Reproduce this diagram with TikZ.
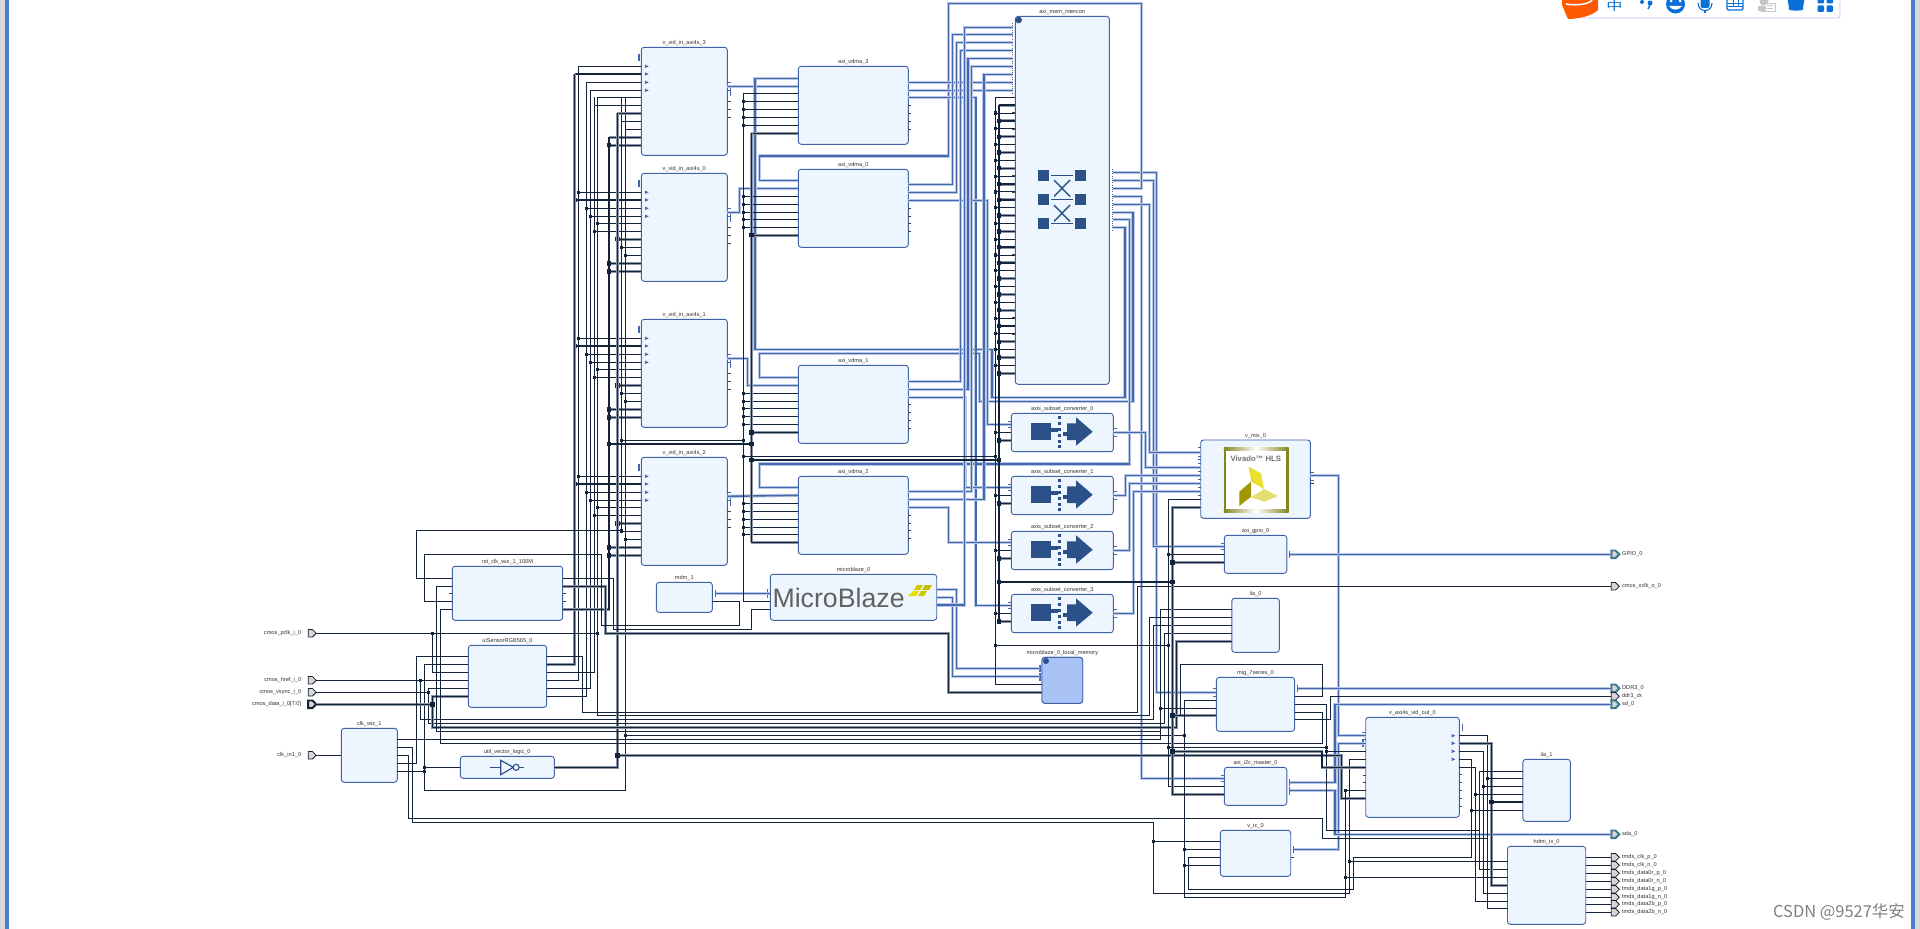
\documentclass[tikz,border=0pt]{standalone}
\usepackage{graphicx}
\usepackage{fontspec}
\setmainfont{Liberation Sans}
\newfontfamily\cjkfont{Noto Sans CJK SC}
\usepackage{tikz}
\usetikzlibrary{positioning, calc, shapes.symbols}

\definecolor{sigdark}{HTML}{13233A}
\definecolor{sighalo}{HTML}{8A96A6}
\definecolor{ipedge}{HTML}{3F63A5}
\definecolor{ipfill}{HTML}{EDF5FE}
\definecolor{wireblue}{HTML}{4567AE}
\definecolor{haloblue}{HTML}{B7C8E6}
\definecolor{iconblue}{HTML}{2C5088}
\definecolor{tealedge}{HTML}{3C7A90}
\definecolor{portgrey}{HTML}{DAD5D0}
\definecolor{imeblue}{HTML}{0B6FD8}
\definecolor{framegrey}{HTML}{DADADA}
\definecolor{frameblue}{HTML}{4A7FD0}
\definecolor{lmbfill}{HTML}{A9C4F4}
\definecolor{hlsolive}{HTML}{85851E}

\tikzset{
    ipbox/.style={draw=ipedge, fill=ipfill, line width=1.3pt, rounded corners=4pt, inner sep=0pt, outer sep=0pt},
    iptitle/.style={font=\fontsize{8}{9}\selectfont, text=black!80, inner sep=0pt},
    sigwire/.style={draw=sigdark, line width=1.25pt},
    buswire/.style={draw=sigdark, line width=2pt, preaction={draw=sighalo, line width=4.2pt}},
    bluewire/.style={draw=wireblue, line width=2.1pt, preaction={draw=haloblue, line width=4.6pt}},
    pintick/.style={draw=black!75, line width=2pt},
    bluetick/.style={draw=wireblue, line width=1pt},
    portplain/.style={shape=signal, draw=sigdark, fill=portgrey, line width=1.1pt, minimum width=0.4cm, minimum height=0.38cm, inner sep=0pt, outer sep=0pt},
    portdata/.style={portplain, line width=2.8pt},
    portteal/.style={portplain, draw=tealedge, line width=2.8pt},
    portname/.style={font=\fontsize{8}{9}\selectfont, text=black!80, inner sep=0pt},
}

% block: name, x1, y1, x2, y2, title
\newcommand{\ipblock}[6]{%
    \node[ipbox, minimum width={(#4-#2)*0.05cm}, minimum height={(#5-#3)*0.05cm}] (#1) at ({(#2+#4)/2},{(#3+#5)/2}) {};
    \node[iptitle, above=1.6pt of #1] (#1title) {#6};
}
% pins: prefix, x, list of y
\newcommand{\pinsL}[3]{\foreach \py [count=\pn] in {#3} {\coordinate (#1\pn) at (#2,\py); \draw[pintick] (#2-3,\py) -- (#2,\py);}}
\newcommand{\pinsR}[3]{\foreach \py [count=\pn] in {#3} {\coordinate (#1\pn) at (#2,\py); \draw[pintick] (#2,\py) -- (#2+3,\py);}}
\newcommand{\bluepinsL}[3]{\foreach \py [count=\pn] in {#3} {\coordinate (#1\pn) at (#2,\py); \draw[bluetick] (#2-3,\py) -- (#2,\py);}}
\newcommand{\bluepinsR}[3]{\foreach \py [count=\pn] in {#3} {\coordinate (#1\pn) at (#2,\py); \draw[bluetick] (#2,\py) -- (#2+3,\py);}}
% junction dots
\newcommand{\jnthin}[2]{\fill[sigdark] (#1-1.6,#2-1.6) rectangle (#1+1.6,#2+1.6);}
\newcommand{\jnbus}[2]{\fill[sigdark] (#1-2.2,#2-2.2) rectangle (#1+2.2,#2+2.2);}

\begin{document}
\begin{tikzpicture}[x=0.05cm, y=-0.05cm]
        \useasboundingbox (0,0) rectangle (1920,929);

        % ==========================================
        % WINDOW FRAME AND INPUT BAR
        % ==========================================
        \fill[white] (0,0) rectangle (1920,929);
        \fill[framegrey] (0,0) rectangle (5,929);
        \fill[frameblue] (5,0) rectangle (9,929);
        \fill[frameblue] (1911,0) rectangle (1915,929);
        \fill[framegrey] (1915,0) rectangle (1920,929);

        \draw[draw=blue!25, fill=white, rounded corners=3pt, line width=1pt] (1580,-5) rectangle (1840,18);
        \fill[orange!70!red] (1562,-2) -- (1598,-2) -- (1598,10) .. controls (1592,16) and (1578,19) .. (1568,19) -- (1562,5) -- cycle;
        \draw[white, line width=2.2pt] (1566,4) .. controls (1576,6) and (1590,4) .. (1592,0);
        \node[text=imeblue, font=\cjkfont\fontsize{17}{17}\selectfont, inner sep=0pt] (imechar) at (1614.5,6.4) {\scalebox{1.35}[1]{中}};
        \fill[imeblue] (1642,2) circle (2);
        \fill[imeblue] (1650,3) circle (2.5);
        \draw[imeblue, line width=2pt] (1651,3) -- (1648,9);
        \fill[imeblue] (1675.5,4) circle (9.5);
        \fill[white] (1671,1) circle (1.5) (1680,1) circle (1.5);
        \fill[white] (1669,6) .. controls (1672,11) and (1679,11) .. (1682,6) -- cycle;
        \fill[imeblue, rounded corners=3pt] (1700.5,-4) rectangle (1709.5,8);
        \draw[imeblue, line width=1.6pt] (1698,3) .. controls (1698,13) and (1712,13) .. (1712,3);
        \draw[imeblue, line width=1.6pt] (1705,11) -- (1705,13.5);
        \draw[imeblue, line width=2pt, fill=white, rounded corners=2pt] (1727,-4) rectangle (1743,10);
        \draw[imeblue, line width=1pt] (1727,3) -- (1743,3) (1727,6.5) -- (1743,6.5) (1733,-4) -- (1733,7) (1738,-4) -- (1738,7);
        \draw[black!22, line width=1pt] (1761,3) rectangle (1775.5,11);
        \draw[black!22, line width=1pt] (1767,5.5) -- (1773,5.5) (1767,8) -- (1773,8);
        \fill[black!22] (1764,1) circle (4.5);
        \fill[black!22] (1758,11) rectangle (1766,6);
        \fill[imeblue, rounded corners=2pt] (1787,-4) -- (1805,-4) -- (1803,8) .. controls (1803,11) and (1789,11) .. (1789,8) -- cycle;
        \fill[imeblue, rounded corners=1.5pt] (1817.5,-5) rectangle (1824,3.5) (1826.5,-5) rectangle (1833,3.5) (1817.5,5.5) rectangle (1824,12) (1826.5,5.5) rectangle (1833,12);

        % ==========================================
        % VIDEO INPUT AND VDMA BLOCKS
        % ==========================================
        \foreach \nm/\tp/\ttl in {three/47.3/3, zero/173.3/0, one/319.3/1, two/457.3/2} {
            \ipblock{vin\nm}{641.3}{\tp}{727.3}{\tp+108}{v\_vid\_in\_axi4s\_\ttl}
            \foreach \oy [count=\pn] in {19,26.7,35,43,50,58,66,74,82,90,98} {
                \coordinate (vin\nm L\pn) at (641.3,\tp+\oy);
            }
            \foreach \pn in {5,...,11} {\draw[pintick] ($(vin\nm L\pn)+(-3,0)$) -- (vin\nm L\pn);}
            \foreach \oy in {19,26.7,35,43} {\fill[wireblue] (645,\tp+\oy-1.7) -- (648.7,\tp+\oy) -- (645,\tp+\oy+1.7) -- cycle;}
            \draw[wireblue, line width=2.4pt] (639,\tp+7) -- (639,\tp+14);
            \coordinate (vin\nm R1) at (727.3,\tp+39);
            \draw[bluetick] (727.3,\tp+35) -- (731,\tp+35) (727.3,\tp+39) -- (731,\tp+39) (727.3,\tp+43) -- (731,\tp+43);
            \draw[wireblue, line width=1pt] (730.5,\tp+41) -- (730.5,\tp+49);
            \foreach \oy in {54,62,70} {\draw[pintick] (727.3,\tp+\oy) -- (731,\tp+\oy);}
        }

        \ipblock{vdmathree}{798.3}{66.3}{908.3}{144.3}{axi\_vdma\_3}
        \ipblock{vdmazero}{798.3}{169.3}{908.3}{247.3}{axi\_vdma\_0}
        \ipblock{vdmaone}{798.3}{365.3}{908.3}{443.3}{axi\_vdma\_1}
        \ipblock{vdmatwo}{798.3}{476.3}{908.3}{554.3}{axi\_vdma\_2}

        \bluepinsL{vdmathreeL}{798.3}{78.3,86.3}
        \bluepinsL{vdmazeroL}{798.3}{180.3,188.3}
        \bluepinsL{vdmaoneL}{798.3}{377.3,385.7}
        \bluepinsL{vdmatwoL}{798.3}{487.7,495.3}
        \pinsL{vdmathreeS}{798.3}{93.3,101.3,109.3,117.3,125.3,133.3}
        \pinsL{vdmazeroS}{798.3}{196.3,204.3,212.3,219.3,227.3,235.3}
        \pinsL{vdmaoneS}{798.3}{393.3,401.3,408.3,416.3,424.3,432.3}
        \pinsL{vdmatwoS}{798.3}{503.3,511.3,519.3,527.3,534.3,542.3}
        \bluepinsR{vdmathreeR}{908.3}{82.3,90.3,97.3}
        \bluepinsR{vdmazeroR}{908.3}{184.3,192.3,200.3}
        \bluepinsR{vdmaoneR}{908.3}{381.3,389.3,397.3}
        \bluepinsR{vdmatwoR}{908.3}{491.3,499.3,507.3}
        \pinsR{vdmathreeT}{908.3}{105.3,113.3,121.3,129.3}
        \pinsR{vdmazeroT}{908.3}{208.3,216.3,223.3,231.3}
        \pinsR{vdmaoneT}{908.3}{404.3,412.3,420.3,428.3}
        \pinsR{vdmatwoT}{908.3}{515.3,523.3,530.3,538.3}

        % ==========================================
        % MEMORY INTERCONNECT
        % ==========================================
        \ipblock{mem}{1015.3}{16.3}{1109.3}{384.3}{axi\_mem\_intercon}
        \fill[iconblue] (1018.7,20) circle (3.3);
        \draw[wireblue, line width=1.2pt, dotted] (1012.7,23) -- (1012.7,93);
        \draw[wireblue, line width=1.2pt, dotted] (1112.7,169) -- (1112.7,231);
        \foreach \py [count=\pn] in {27.3,34.3,42.3,50.3,58.3,66.3,74.3,82.3,90.3} {\coordinate (memB\pn) at (1012.7,\py);}
        \foreach \py [count=\pn] in {172.3,180.3,188.3,196.3,204.3,212.3,219.7,227.7} {\coordinate (memM\pn) at (1112.7,\py);}
        \foreach \ms in {1038,1075} {\foreach \mt in {170,194,218} {\fill[iconblue] (\ms,\mt) rectangle +(11,11);}}
        \draw[iconblue, line width=2pt] (1051,175.3) -- (1073,175.3) (1051,199.3) -- (1073,199.3) (1051,223.7) -- (1073,223.7);
        \draw[iconblue, line width=2pt] (1054,180) -- (1070,196.5) (1070,180) -- (1054,196.5) (1054,205) -- (1070,221.5) (1070,205) -- (1054,221.5);

        \foreach \pn in {1,...,36} {
            \pgfmathsetmacro{\py}{97.3+(\pn-1)*7.886}
            \draw[pintick] (1012.3,\py) -- (1015.3,\py);
            \ifodd\pn
                \draw[sigwire] (995.5,\py) -- (1015.3,\py);
                \ifnum\pn>1 \jnthin{995.5}{\py} \fi
            \else
                \draw[buswire] (999,\py) -- (1015.3,\py);
                \ifnum\pn>2 \jnbus{999}{\py} \fi
            \fi
        }

        % ==========================================
        % SUBSET CONVERTERS
        % ==========================================
        \foreach \nm/\tp/\ttl in {convzero/413.3/0, convone/476.3/1, convtwo/531.3/2, convthree/594.3/3} {
            \ipblock{\nm}{1011.3}{\tp}{1113.3}{\tp+38.4}{axis\_subset\_converter\_\ttl}
            \fill[iconblue] (1031,\tp+10) rectangle (1051,\tp+26.7);
            \fill[iconblue] (1051,\tp+15) rectangle (1058,\tp+18.5);
            \fill[iconblue] (1067,\tp+10) -- (1076,\tp+10) -- (1076,\tp+4) -- (1092.7,\tp+18.4) -- (1076,\tp+32.4) -- (1076,\tp+26.7) -- (1067,\tp+26.7) -- cycle;
            \fill[iconblue] (1063,\tp+19) rectangle (1067,\tp+23);
            \foreach \oy in {4,10,16,22,28,33} {\fill[iconblue] (1058,\tp+\oy-1.4) rectangle (1061,\tp+\oy+1.4);}
            \draw[bluetick] (1008,\tp+8) -- (1011.3,\tp+8) (1008,\tp+11) -- (1011.3,\tp+11) (1008,\tp+14) -- (1011.3,\tp+14);
            \draw[pintick] (1008,\tp+19) -- (1011.3,\tp+19);
            \draw[pintick] (1008,\tp+27) -- (1011.3,\tp+27);
            \draw[bluetick] (1113.3,\tp+15) -- (1117,\tp+15) (1113.3,\tp+19) -- (1117,\tp+19) (1113.3,\tp+23) -- (1117,\tp+23);
            \coordinate (\nm L1) at (1011.3,\tp+11);
            \coordinate (\nm L2) at (1011.3,\tp+19);
            \coordinate (\nm L3) at (1011.3,\tp+27);
            \coordinate (\nm R1) at (1113.3,\tp+19);
            \draw[sigwire] (995.5,\tp+19) -- (\nm L2);
            \jnthin{995.5}{\tp+19}
            \draw[buswire] (999,\tp+27) -- (\nm L3);
            \jnbus{999}{\tp+27}
        }

        % ==========================================
        % MICROBLAZE, DEBUG AND LOCAL MEMORY
        % ==========================================
        \ipblock{mb}{770.3}{574.3}{936.7}{620.3}{microblaze\_0}
        \node[text=black!62, font=\fontsize{38}{38}\selectfont, inner sep=0pt] (mblogo) at (838.6,598) {MicroBlaze};
        \fill[yellow!60!olive] (917,585) -- (923,585) -- (920,590) -- (914,590) -- cycle;
        \fill[yellow!50!olive] (925,585) -- (932,585) -- (929,590) -- (922,590) -- cycle;
        \fill[yellow!80!olive] (913,591) -- (919,591) -- (916,596) -- (908,596) -- cycle;
        \fill[yellow!60!olive] (921,591) -- (927,591) -- (924,596) -- (918,596) -- cycle;
        \bluepinsL{mbL}{770.3}{593.3}
        \draw[wireblue, line width=2.4pt] (767.5,589) -- (767.5,597.5);
        \pinsL{mbS}{770.3}{601.7,609.3}
        \bluepinsR{mbR}{936.7}{589.3,597.3,605}

        \ipblock{mdm}{656.3}{582.3}{712.3}{612.3}{mdm\_1}
        \coordinate (mdmR1) at (716,593.3);
        \draw[wireblue, line width=1.2pt] (715,589.5) -- (715,597);
        \pinsR{mdmS}{712.3}{601.7}

        \ipblock{lmb}{1042}{657.3}{1082.7}{703.3}{microblaze\_0\_local\_memory}
        \draw[ipedge, fill=lmbfill, line width=1.3pt, rounded corners=4pt] (1042,657.3) rectangle (1082.7,703.3);
        \fill[iconblue] (1046,661) circle (3);
        \coordinate (lmbL1) at (1040,668.3);
        \coordinate (lmbL2) at (1040,676.7);
        \draw[wireblue, line width=2.4pt] (1040,664.5) -- (1040,672) (1040,673) -- (1040,680.5);
        \pinsL{lmbS}{1042}{684.3,692.3}

        % ==========================================
        % CLOCK, RESET AND SENSOR BLOCKS
        % ==========================================
        \ipblock{rst}{452.3}{566.3}{562.7}{620.3}{rst\_clk\_wiz\_1\_100M}
        \pinsL{rstL}{452.3}{578.3,586.3,593.3,601.3,609.3}
        \pinsR{rstR}{562.7}{578.3,586.3,593.3,601.3,609.3}
        \ipblock{sense}{468.3}{645.3}{546.7}{707.3}{uiSensorRGB565\_0}
        \pinsL{senseL}{468.3}{656.3,664.3,672.3,680.3,688.3,696.3}
        \pinsR{senseR}{546.7}{656.3,664.3,672.3,680.3,688.3,696.3}
        \ipblock{clk}{341.3}{728.3}{397.3}{782.3}{clk\_wiz\_1}
        \coordinate (clkL1) at (341.3,755.3);
        \pinsR{clkR}{397.3}{739.3,747.3,755.3,763.3,771.3}
        \ipblock{util}{460.3}{756.3}{554.3}{778.3}{util\_vector\_logic\_0}
        \pinsL{utilL}{460.3}{767.3}
        \pinsR{utilR}{554.3}{767.3}
        \draw[iconblue, line width=1.6pt] (490,767.3) -- (500.7,767.3) (519.3,767.3) -- (524,767.3);
        \draw[iconblue, line width=1.6pt, fill=ipfill] (500.7,760.3) -- (513.3,767.3) -- (500.7,774.7) -- cycle;
        \draw[iconblue, line width=1.6pt, fill=ipfill] (516.2,767.3) circle (3);

        % ==========================================
        % RIGHT-HAND BLOCKS
        % ==========================================
        \ipblock{mix}{1200.7}{440}{1310.4}{518.3}{v\_mix\_0}
        \bluepinsL{mixL}{1200.7}{452.3,467.3,475.3,483.3,491.3}
        \foreach \py in {447,456,459,463,471,479,487,495} {\draw[bluetick] (1197.5,\py) -- (1200.7,\py);}
        \pinsL{mixS}{1200.7}{499.3,507.3}
        \bluepinsR{mixR}{1310.4}{475.7}
        \draw[bluetick] (1310.4,472) -- (1314,472) (1310.4,480) -- (1314,480);
        \draw[pintick] (1310.4,483.3) -- (1314,483.3);
        \draw[draw=hlsolive, line width=3.6pt, fill=white] (1225,449) rectangle (1287.5,511);
        \shade[left color=hlsolive, right color=white] (1223.8,447.8) rectangle (1256,450.2);
        \shade[left color=white, right color=hlsolive] (1256,447.8) rectangle (1288.7,450.2);
        \shade[left color=hlsolive, right color=white] (1223.8,509.8) rectangle (1256,512.2);
        \shade[left color=white, right color=hlsolive] (1256,509.8) rectangle (1288.7,512.2);
        \node[text=black!55, font=\bfseries\fontsize{11}{11}\selectfont, inner sep=0pt] (hlstext) at (1255.8,459) {Vivado™ HLS};
        \fill[yellow!75!olive!80] (1248.6,466.7) -- (1261,473.3) -- (1264,489) -- (1251.4,481.7) -- cycle;
        \fill[olive!85!yellow] (1251,481.7) -- (1251,496.7) -- (1239.3,506) -- (1239.3,491.7) -- cycle;
        \fill[yellow!50!olive!50] (1251,497.3) -- (1264,489) -- (1277.9,496) -- (1264.6,501.7) -- cycle;

        \ipblock{gpio}{1224.3}{535.3}{1286.8}{573.3}{axi\_gpio\_0}
        \bluepinsL{gpioL}{1224.3}{546.3}
        \draw[bluetick] (1221,543) -- (1224.3,543) (1221,549.5) -- (1224.3,549.5);
        \pinsL{gpioS}{1224.3}{554.3,562.3}
        \coordinate (gpioR1) at (1290,554.3);
        \draw[wireblue, line width=1.2pt] (1289.3,550.5) -- (1289.3,558);

        \ipblock{ilazero}{1231.8}{598.3}{1279.3}{652.3}{ila\_0}
        \pinsL{ilazeroL}{1231.8}{609.3,617.3,625.3,633.3,641.3}

        \ipblock{mig}{1216.4}{677.3}{1294.6}{731.3}{mig\_7series\_0}
        \bluepinsL{migL}{1216.4}{692.3}
        \draw[bluetick] (1213,688.5) -- (1216.4,688.5) (1213,696) -- (1216.4,696);
        \pinsL{migS}{1216.4}{700.3,708.7,715.3}
        \coordinate (migB1) at (1298,688.3);
        \draw[wireblue, line width=1.2pt] (1297.3,684.5) -- (1297.3,692);
        \pinsR{migR}{1294.6}{696.3,704.3,712.3,719.3}

        \ipblock{iic}{1224.3}{767.3}{1286.8}{805.3}{axi\_i2c\_master\_0}
        \bluepinsL{iicL}{1224.3}{778.3}
        \draw[bluetick] (1221,775) -- (1224.3,775) (1221,781.5) -- (1224.3,781.5);
        \pinsL{iicS}{1224.3}{786.3,794.3}
        \coordinate (iicR1) at (1290,782.3);
        \coordinate (iicR2) at (1290,790.7);
        \draw[wireblue, line width=1.2pt] (1289.3,778.5) -- (1289.3,786) (1289.3,787) -- (1289.3,794.5);

        \ipblock{vtc}{1220.4}{830.3}{1290.7}{876.3}{v\_tc\_0}
        \pinsL{vtcL}{1220.4}{841.3,849.3,857.3,865.3}
        \coordinate (vtcR1) at (1294,849.3);
        \draw[wireblue, line width=1.2pt] (1293.5,845.5) -- (1293.5,853);
        \pinsR{vtcS}{1290.7}{857.3}

        \ipblock{vid}{1365.7}{717.3}{1459.3}{817.3}{v\_axi4s\_vid\_out\_0}
        \bluepinsL{vidL}{1365.7}{735.7,743.3}
        \draw[bluetick] (1361.5,732.5) -- (1365.7,732.5) (1361.5,739) -- (1365.7,739);
        \draw[wireblue, line width=2.4pt] (1363,739.5) -- (1363,747);
        \pinsL{vidS}{1365.7}{751.3,759.3,767.3,775.3,782.7,790.3,798.3}
        \foreach \py in {735.7,743.3,751.3,759.3} {\fill[wireblue] (1451.5,\py-1.8) -- (1455.2,\py) -- (1451.5,\py+1.8) -- cycle;}
        \draw[wireblue, line width=1.2pt] (1462,724) -- (1462,731);
        \foreach \py [count=\pn] in {735.7,743.3,751.3,759.7} {\coordinate (vidR\pn) at (1459.3,\py);}
        \pinsR{vidT}{1459.3}{767.3,774.7,782.3,790.3,798.3,806.3}

        \ipblock{ilaone}{1522.9}{759.3}{1570.4}{821.3}{ila\_1}
        \pinsL{ilaoneL}{1522.9}{771.3,778.3,786.3,794.3,802,810.3}

        \ipblock{hdmi}{1507.5}{846.3}{1585.7}{924.3}{hdmi\_tx\_0}
        \pinsL{hdmiL}{1507.5}{861.3,869.3,877.3,885.7,893.3,901.3,908.3}
        \pinsR{hdmiR}{1585.7}{857.3,865.3,873.3,881.3,889.3,897.3,904.3,912.3}

        % ==========================================
        % EXTERNAL PORTS
        % ==========================================
        \node[portplain] (pclkport) at (310.3,633.3) {};
        \node[portplain] (hrefport) at (310.3,680.3) {};
        \node[portplain] (vsyncport) at (310.3,692.3) {};
        \node[portdata] (dataport) at (310.3,704.3) {};
        \node[portplain] (clkinport) at (310.3,755.3) {};
        \node[portname, anchor=east] (pclkname) at (301.3,633.3) {cmos\_pclk\_i\_0};
        \node[portname, anchor=east] (hrefname) at (301.3,680.3) {cmos\_href\_i\_0};
        \node[portname, anchor=east] (vsyncname) at (301.3,692.3) {cmos\_vsync\_i\_0};
        \node[portname, anchor=east] (dataname) at (301.3,704.3) {cmos\_data\_i\_0[7:0]};
        \node[portname, anchor=east] (clkinname) at (301.3,755.3) {clk\_in1\_0};

        \node[portteal] (gpioport) at (1613.4,554.3) {};
        \node[portplain] (xclkport) at (1613.4,586.3) {};
        \node[portteal] (ddrport) at (1613.4,688.3) {};
        \node[portplain] (ddrckport) at (1613.4,696.3) {};
        \node[portteal] (sdport) at (1613.4,704.3) {};
        \node[portteal] (sdaport) at (1613.4,834.3) {};
        \node[portname, anchor=west] (gpioname) at (1622,554.3) {GPIO\_0};
        \node[portname, anchor=west] (xclkname) at (1622,586.3) {cmos\_xclk\_o\_0};
        \node[portname, anchor=west] (ddrname) at (1622,688.3) {DDR3\_0};
        \node[portname, anchor=west] (ddrckname) at (1622,696.3) {ddr3\_ck};
        \node[portname, anchor=west] (sdname) at (1622,704.3) {sd\_0};
        \node[portname, anchor=west] (sdaname) at (1622,834.3) {sda\_0};

        \foreach \nm/\py/\ttl/\pn in {a/857.3/tmds\_clk\_p\_0/1, b/865.3/tmds\_clk\_n\_0/2, c/873.3/tmds\_data0r\_p\_0/3, d/881.3/tmds\_data0r\_n\_0/4, e/889.3/tmds\_data1g\_p\_0/5, f/897.3/tmds\_data1g\_n\_0/6, g/904.3/tmds\_data2b\_p\_0/7, h/912.3/tmds\_data2b\_n\_0/8} {
            \node[portplain] (tmds\nm) at (1613.4,\py) {};
            \node[portname, anchor=west] (tmdsname\nm) at (1622,\py) {\ttl};
            \draw[sigwire] (hdmiR\pn) -- (tmds\nm.west);
        }

        % ==========================================
        % BLUE INTERFACE WIRES
        % ==========================================
        \draw[bluewire] (vinthreeR1) -- (vdmathreeL2);
        \draw[bluewire] (vinzeroR1) -- (739.3,212.3) -- (739.3,188.3) -- (vdmazeroL2);
        \draw[bluewire] (vinoneR1) -- (747.7,358.3) -- (747.7,385.7) -- (vdmaoneL2);
        \draw[bluewire] (vintwoR1) -- (vdmatwoL2);

        \draw[bluewire] (memM1) -- (1156.4,172.3) -- (1156.4,692.3) -- (migL1);
        \draw[bluewire] (memM2) -- (1153.3,180.3) -- (1153.3,546.3) -- (gpioL1);
        \draw[bluewire] (memM3) -- (1141.7,188.3) -- (1141.7,3.3) -- (948.3,3.3) -- (948.3,156) -- (759.3,156) -- (759.3,180.3) -- (vdmazeroL1);
        \draw[bluewire] (memM4) -- (1141.5,196.3) -- (1141.5,778.3) -- (iicL1);
        \draw[bluewire] (memM5) -- (1149.4,204.3) -- (1149.4,452.3) -- (mixL1);
        \draw[bluewire] (memM6) -- (1133,212.3) -- (1133,401.3) -- (979.5,401.3) -- (979.5,353.3) -- (759.3,353.3) -- (759.3,377.3) -- (vdmaoneL1);
        \draw[bluewire] (memM7) -- (1129.3,219.7) -- (1129.3,464) -- (759.3,464) -- (759.3,487.7) -- (vdmatwoL1);
        \draw[bluewire] (memM8) -- (1125,227.7) -- (1125,397.3) -- (992,397.3) -- (992,349.3) -- (755,349.3) -- (755,78.3) -- (vdmathreeL1);

        \draw[bluewire] (vdmathreeR1) -- (memB8);
        \draw[bluewire] (vdmathreeR2) -- (memB9);
        \draw[bluewire] (vdmathreeR3) -- (975.8,97.3) -- (975.8,605.3) -- (convthreeL1);
        \draw[bluewire] (vdmazeroR1) -- (952.3,184.3) -- (952.3,34.3) -- (memB2);
        \draw[bluewire] (vdmazeroR2) -- (956.3,192.3) -- (956.3,42.3) -- (memB3);
        \draw[bluewire] (vdmazeroR3) -- (987.7,200.3) -- (987.7,424.3) -- (convzeroL1);
        \draw[bluewire] (vdmaoneR1) -- (960.3,381.3) -- (960.3,50.3) -- (memB4);
        \draw[bluewire] (vdmaoneR2) -- (968,389.3) -- (968,58.3) -- (memB5);
        \draw[bluewire] (vdmaoneR3) -- (965.5,397.3) -- (965.5,487.3) -- (convoneL1);
        \draw[bluewire] (vdmatwoR1) -- (971.7,491.3) -- (971.7,66.3) -- (memB6);
        \draw[bluewire] (vdmatwoR2) -- (984,499.3) -- (984,74.3) -- (memB7);
        \draw[bluewire] (vdmatwoR3) -- (948.7,507.3) -- (948.7,542.3) -- (convtwoL1);

        \draw[bluewire] (mdmR1) -- (mbL1);
        \draw[bluewire] (mbR1) -- (956.7,589.3) -- (956.7,668.3) -- (lmbL1);
        \draw[bluewire] (mbR2) -- (952.7,597.3) -- (952.7,676.7) -- (lmbL2);
        \draw[bluewire] (mbR3) -- (964.5,605) -- (964.5,27.3) -- (memB1);

        \draw[bluewire] (convzeroR1) -- (1145.5,432.3) -- (1145.5,467.3) -- (mixL2);
        \draw[bluewire] (convoneR1) -- (1125.7,495.3) -- (1125.7,475.3) -- (mixL3);
        \draw[bluewire] (convtwoR1) -- (1129.7,550.3) -- (1129.7,483.3) -- (mixL4);
        \draw[bluewire] (convthreeR1) -- (1133.7,613.3) -- (1133.7,491.3) -- (mixL5);

        \draw[bluewire] (mixR1) -- (1338.6,475.7) -- (1338.6,735.7) -- (vidL1);
        \draw[bluewire] (vtcR1) -- (1338.6,849.3) -- (1338.6,743.3) -- (vidL2);
        \draw[bluewire] (gpioR1) -- (gpioport.west);
        \draw[bluewire] (migB1) -- (ddrport.west);
        \draw[bluewire] (iicR1) -- (1335,782.3) -- (1335,704.3) -- (sdport.west);
        \draw[bluewire] (iicR2) -- (1335,790.7) -- (1335,834.3) -- (sdaport.west);

        % ==========================================
        % SIGNAL WIRES: VIDEO INPUT BUSES
        % ==========================================
        \foreach \nm/\tp in {three/47.3, zero/173.3, one/319.3, two/457.3} {
            \foreach \pn/\bx in {1/578.3, 3/586.7, 4/590.7, 5/597.7, 6/594.7, 8/621.3, 9/625.7} {
                \draw[sigwire] (vin\nm L\pn) -| (\bx,\tp+50);
            }
            \foreach \pn/\bx in {2/574.7, 7/617.3, 10/609, 11/609} {
                \draw[buswire] (vin\nm L\pn) -- ($(vin\nm L\pn)+(\bx-641.3,0)$);
            }
        }
        \foreach \nm/\tp in {zero/173.3, one/319.3, two/457.3} {
            \foreach \bx/\oy in {578.3/19, 586.7/35, 590.7/43, 597.7/50, 594.7/58, 621.3/74, 625.7/82} {\jnthin{\bx}{\tp+\oy}}
            \foreach \bx/\oy in {574.7/26.7, 617.3/66, 609/90, 609/98} {\jnbus{\bx}{\tp+\oy}}
        }
        \jnbus{609}{145.3}

        \draw[sigwire] (senseR4) -- (578.3,680.3) -- (578.3,66.3);
        \draw[buswire] (senseR2) -- (574.7,664.3) -- (574.7,74);
        \draw[sigwire] (senseR6) -- (586.7,696.3) -- (586.7,82.3);
        \draw[sigwire] (senseR5) -- (590.7,688.3) -- (590.7,90.3);
        \draw[sigwire] (senseR3) -- (594.7,672.3) -- (594.7,105.3);
        \draw[sigwire] (597.7,97.3) -- (597.7,715) -- (1149.3,715) -- (1149.3,617.3) -- (ilazeroL2);
        \draw[buswire] (utilR1) -- (617.3,767.3) -- (617.3,113.3);
        \draw[sigwire] (621.3,121.3) -- (621.3,530.3) -- (416.3,530.3) -- (416.3,578.3) -- (rstL1);
        \draw[sigwire] (625.7,129.3) -- (625.7,790.3) -- (424.3,790.3) -- (424.3,664.3) -- (senseL2);
        \draw[buswire] (rstR5) -- (609,609.3) -- (609,137.3);

        % ==========================================
        % SIGNAL WIRES: VDMA AND INTERCONNECT BUSES
        % ==========================================
        \foreach \nm in {three,zero,one,two} {
            \foreach \pn in {1,...,5} {\draw[sigwire] (vdma\nm S\pn) -- ($(vdma\nm S\pn)+(-55,0)$);}
            \draw[buswire] (vdma\nm S6) -- ($(vdma\nm S6)+(-47,0)$);
        }
        \draw[sigwire] (743.3,93.3) -- (743.3,601.7) -- (mbS1);
        \draw[buswire] (751.3,133.3) -- (751.3,542.3);
        \draw[sigwire] (995.5,97.3) -- (995.5,684.3) -- (lmbS1);
        \draw[buswire] (999,105.3) -- (999,621.3);
        \draw[sigwire] (621.3,440.3) -- (743.3,440.3);
        \draw[buswire] (609,444) -- (751.3,444);
        \draw[sigwire] (743.3,456.3) -- (995.5,456.3);
        \draw[buswire] (751.3,460) -- (999,460);
        \draw[sigwire] (995.5,645.3) -- (1168.3,645.3);
        \draw[buswire] (999,582) -- (1172.3,582);
        \foreach \py in {101.3,109.3,117.3,125.3,196.3,204.3,212.3,219.3,227.3,393.3,401.3,408.3,416.3,424.3,503.3,511.3,519.3,527.3,534.3,440.3,456.3} {\jnthin{743.3}{\py}}
        \foreach \py in {235.3,432.3,444,460} {\jnbus{751.3}{\py}}
        \jnthin{621.3}{440.3} \jnbus{609}{444}
        \jnthin{995.5}{456.3} \jnbus{999}{460} \jnbus{999}{582}
        \jnthin{995.5}{645.3}

        % ==========================================
        % SIGNAL WIRES: CLOCK, RESET AND SENSOR
        % ==========================================
        \draw[sigwire] (pclkport.east) -- (597.7,633.3);
        \draw[sigwire] (432.3,633.3) -- (432.3,672.3) -- (senseL3);
        \draw[sigwire] (hrefport.east) -- (senseL4);
        \draw[sigwire] (420.3,680.3) -- (420.3,719.5) -- (1153.3,719.5) -- (1153.3,625.3) -- (ilazeroL3);
        \draw[sigwire] (vsyncport.east) -- (428.3,692.3);
        \draw[sigwire] (senseL5) -- (428.3,688.3) -- (428.3,723.3) -- (1164.3,723.3) -- (1164.3,633.3) -- (ilazeroL4);
        \draw[buswire] (dataport.east) -- (432.3,704.3);
        \draw[buswire] (senseL6) -- (432.3,696.3) -- (432.3,727.3) -- (1176.4,727.3) -- (1176.4,641.3) -- (ilazeroL5);
        \draw[sigwire] (senseR1) -- (582.5,656.3) -- (582.5,712.3) -- (1137.3,712.3) -- (1137.3,586.3) -- (xclkport.west);

        \draw[sigwire] (rstL2) -- (436.7,586.3) -- (436.7,731.3) -- (1160.3,731.3);
        \draw[sigwire] (rstL5) -- (440.7,609.3) -- (440.7,743.3) -- (1322.7,743.3) -- (1322.7,712.3) -- (migR3);
        \draw[sigwire] (rstR1) -- (613.3,578.3) -- (613.3,629.3) -- (751.7,629.3) -- (751.7,609.3) -- (mbS2);
        \draw[buswire] (rstR2) -- (605.7,586.3) -- (605.7,633.3) -- (948.3,633.3) -- (948.3,692.3) -- (lmbS2);
        \draw[sigwire] (mdmS1) -- (739.3,601.7) -- (739.3,625.3) -- (601.7,625.3) -- (601.7,554.3) -- (424.3,554.3) -- (424.3,601.3) -- (rstL4);

        \draw[sigwire] (clkinport.east) -- (clkL1);
        \draw[sigwire] (clkR1) -- (1160.3,739.3) -- (1160.3,609.3) -- (ilazeroL1);
        \draw[sigwire] (clkR2) -- (412.3,747.3) -- (412.3,822.5) -- (1153.3,822.5) -- (1153.3,893.3) -- (1349.3,893.3) -- (1349.3,759.3) -- (vidS2);
        \draw[sigwire] (clkR3) -- (408.3,755.3) -- (408.3,818.3) -- (1322.7,818.3) -- (1322.7,838.7) -- (1487.5,838.7);
        \draw[sigwire] (clkR4) -- (416.3,763.3) -- (416.3,656.3) -- (senseL1);
        \draw[sigwire] (clkR5) -- (424.3,771.3);
        \draw[sigwire] (utilL1) -- (424.3,767.3);
        \draw[sigwire] (625.7,735.3) -- (1184.3,735.3);
        \draw[buswire] (617.3,755.3) -- (1341.3,755.3) -- (1341.3,798.3) -- (vidS7);

        % ==========================================
        % SIGNAL WIRES: RIGHT-HAND BLOCKS
        % ==========================================
        \draw[sigwire] (mixS1) -- (1168.3,499.3) -- (1168.3,786.3) -- (iicS1);
        \draw[buswire] (mixS2) -- (1172.3,507.3) -- (1172.3,794.3) -- (iicS2);
        \draw[sigwire] (1168.3,554.3) -- (gpioS1);
        \draw[buswire] (1172.3,562.3) -- (gpioS2);
        \draw[buswire] (1172.3,715.3) -- (migS3);
        \draw[sigwire] (1160.3,708.7) -- (migS2);
        \draw[sigwire] (migS1) -- (1184.3,700.3) -- (1184.3,897.3) -- (1345.3,897.3) -- (1345.3,790.3) -- (vidS6);
        \draw[sigwire] (1184.3,849.3) -- (vtcL2);
        \draw[sigwire] (1184.3,865.3) -- (vtcL4);
        \draw[sigwire] (1153.3,841.3) -- (vtcL1);

        \draw[sigwire] (migR1) -- (1322.7,696.3) -- (1322.7,664.3) -- (1180.3,664.3) -- (1180.3,715.3);
        \draw[sigwire] (migR2) -- (1326.7,704.3) -- (1326.7,830) -- (1479.6,830) -- (1479.6,869.3) -- (hdmiL2);
        \draw[sigwire] (migR4) -- (1330.7,719.3) -- (1330.7,696.3) -- (ddrckport.west);
        \draw[sigwire] (1168.3,747.3) -- (1326.7,747.3);
        \draw[sigwire] (1326.7,751.3) -- (vidS1);
        \draw[buswire] (1172.3,751.3) -- (1322,751.3) -- (1322,767.3) -- (vidS3);

        \draw[sigwire] (vidR1) -- (1487.5,735.7) -- (1487.5,908.3) -- (hdmiL7);
        \draw[buswire] (vidR2) -- (1491.4,743.3) -- (1491.4,885.7) -- (hdmiL4);
        \draw[sigwire] (vidR3) -- (1483.6,751.3) -- (1483.6,893.3) -- (hdmiL5);
        \draw[sigwire] (vidR4) -- (1471.4,759.7) -- (1471.4,857.3) -- (1353.3,857.3) -- (1353.3,889.3) -- (1188.3,889.3) -- (1188.3,857.3) -- (vtcL3);
        \draw[sigwire] (vidT1) -- (1475.4,767.3) -- (1475.4,901.3) -- (hdmiL6);
        \draw[sigwire] (1479.6,771.3) -- (1479.6,830);
        \draw[sigwire] (1479.6,771.3) -- (ilaoneL1);
        \draw[sigwire] (1487.5,778.3) -- (ilaoneL2);
        \draw[sigwire] (1483.6,786.3) -- (ilaoneL3);
        \draw[sigwire] (1475.4,794.3) -- (ilaoneL4);
        \draw[buswire] (1491.4,802) -- (ilaoneL5);
        \draw[sigwire] (1471.4,810.3) -- (ilaoneL6);
        \draw[sigwire] (1349.3,861.3) -- (hdmiL1);
        \draw[sigwire] (1345.3,877.3) -- (hdmiL3);

        \foreach \jx/\jy in {597.7/633.3, 432.3/633.3, 420.3/680.3, 428.3/692.3, 424.3/767.3, 424.3/771.3, 621.3/530.3, 625.7/735.3, 1168.3/554.3, 1168.3/645.3, 1168.3/747.3, 1160.3/708.7, 1153.3/841.3, 1184.3/735.3, 1184.3/849.3, 1184.3/865.3, 1326.7/747.3, 1326.7/751.3, 1345.3/790.3, 1345.3/877.3, 1349.3/861.3, 1487.5/778.3, 1483.6/786.3, 1475.4/794.3, 1471.4/810.3} {\jnthin{\jx}{\jy}}
        \foreach \jx/\jy in {432.3/704.3, 617.3/755.3, 1172.3/562.3, 1172.3/582, 1172.3/715.3, 1172.3/751.3, 1491.4/802} {\jnbus{\jx}{\jy}}

        % ==========================================
        % WATERMARK
        % ==========================================
        \node[text=black!50, font=\cjkfont\fontsize{23.4}{24}\selectfont, inner sep=0pt, anchor=east] (markname) at (1905,912) {CSDN @9527华安};

\end{tikzpicture}
\end{document}
